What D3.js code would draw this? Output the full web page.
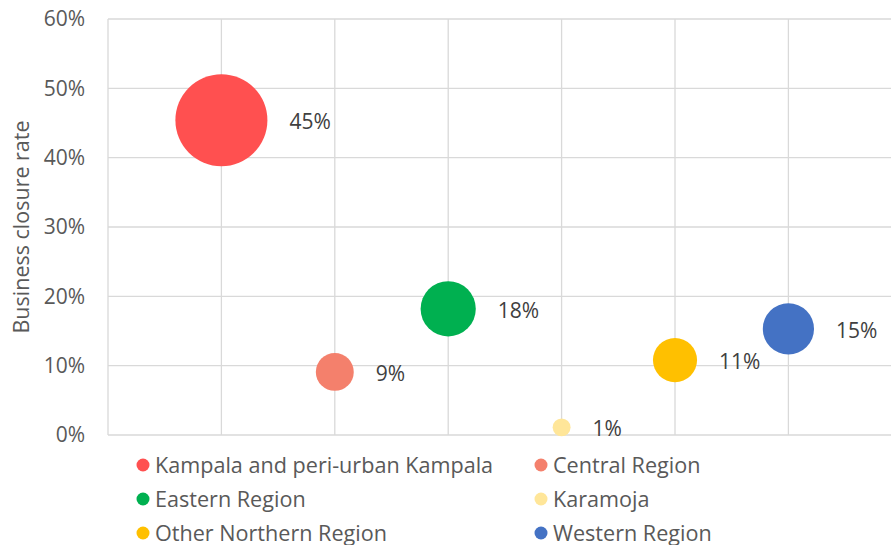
<!DOCTYPE html>
<html>
<head>
<meta charset="utf-8">
<script src="https://cdn.jsdelivr.net/npm/d3@7"></script>
<style>
  body { margin: 0; background: #fff; }
  text { font-family: 'Open Sans', sans-serif; fill: #595959; }
</style>
</head>
<body>
<script>
// data
var regions = ['Kampala and peri-urban Kampala', 'Central Region', 'Eastern Region', 'Karamoja', 'Other Northern Region', 'Western Region'];
var xpos = [1, 2, 3, 4, 5, 6];
var rates = [0.454, 0.091, 0.182, 0.011, 0.108, 0.153];
var labels = ['45%', '9%', '18%', '1%', '11%', '15%'];
var sizes = [100, 17, 36, 3.8, 23, 31];
var colors = ['#ff5050', '#f4806c', '#00b050', '#ffe699', '#ffc000', '#4472c4'];
var yticks = [0, 0.1, 0.2, 0.3, 0.4, 0.5, 0.6];

var width = 891, height = 545;
var plotLeft = 108, plotTop = 19, plotBottom = 435;
var fs = '21px';

var svg = d3.select('body').append('svg')
    .attr('width', width)
    .attr('height', height);

//scales
var xscale = d3.scaleLinear().domain([0, 7]).range([plotLeft, plotLeft + 7 * 113.4]);
var yscale = d3.scaleLinear().domain([0, 0.6]).range([plotBottom, plotTop]);
var rscale = d3.scaleSqrt().domain([0, 100]).range([0, 46]);

//gridlines
svg.append('g')
    .selectAll('line')
    .data(yticks)
    .enter().append('line')
    .attr('x1', plotLeft).attr('x2', width)
    .attr('y1', function (d) { return yscale(d); })
    .attr('y2', function (d) { return yscale(d); })
    .attr('stroke', '#d9d9d9')
    .attr('stroke-width', 1.3);
svg.append('g')
    .selectAll('line')
    .data([0, 1, 2, 3, 4, 5, 6])
    .enter().append('line')
    .attr('x1', function (d) { return xscale(d); })
    .attr('x2', function (d) { return xscale(d); })
    .attr('y1', plotTop).attr('y2', plotBottom)
    .attr('stroke', '#d9d9d9')
    .attr('stroke-width', 1.3);

//y axis labels
var yaxis = d3.axisLeft(yscale)
    .tickValues(yticks)
    .tickFormat(d3.format('.0%'))
    .tickSize(0)
    .tickPadding(23);
var yg = svg.append('g')
    .attr('transform', 'translate(' + plotLeft + ',0)')
    .call(yaxis);
yg.select('.domain').remove();
yg.selectAll('text')
    .attr('font-size', fs)
    .style('font-family', "'Open Sans', sans-serif")
    .attr('fill', '#595959');

//bubbles
svg.selectAll('circle.bubble')
    .data(rates)
    .enter().append('circle')
    .attr('class', 'bubble')
    .attr('cx', function (d, i) { return xscale(xpos[i]); })
    .attr('cy', function (d) { return yscale(d); })
    .attr('r', function (d, i) { return rscale(sizes[i]); })
    .attr('fill', function (d, i) { return colors[i]; });

//data labels
svg.selectAll('text.lbl')
    .data(rates)
    .enter().append('text')
    .attr('class', 'lbl')
    .attr('x', function (d, i) { return xscale(xpos[i]) + rscale(sizes[i]) + 22; })
    .attr('y', function (d) { return yscale(d) + 9; })
    .attr('font-size', fs)
    .style('fill', '#404040')
    .text(function (d, i) { return labels[i]; });

//y axis title
svg.append('text')
    .attr('transform', 'translate(29,' + ((plotTop + plotBottom) / 2) + ') rotate(-90)')
    .attr('text-anchor', 'middle')
    .attr('font-size', '21.5px')
    .text('Business closure rate');

//legend
var legend = svg.selectAll('g.leg')
    .data(regions)
    .enter().append('g')
    .attr('class', 'leg')
    .attr('transform', function (d, i) {
        return 'translate(' + (i % 2 == 0 ? 143 : 541) + ',' + (465 + Math.floor(i / 2) * 34) + ')';
    });
legend.append('circle')
    .attr('r', 6.5)
    .attr('fill', function (d, i) { return colors[i]; });
legend.append('text')
    .attr('x', 12)
    .attr('y', 8)
    .attr('font-size', '21.6px')
    .text(function (d) { return d; });
</script>
</body>
</html>
